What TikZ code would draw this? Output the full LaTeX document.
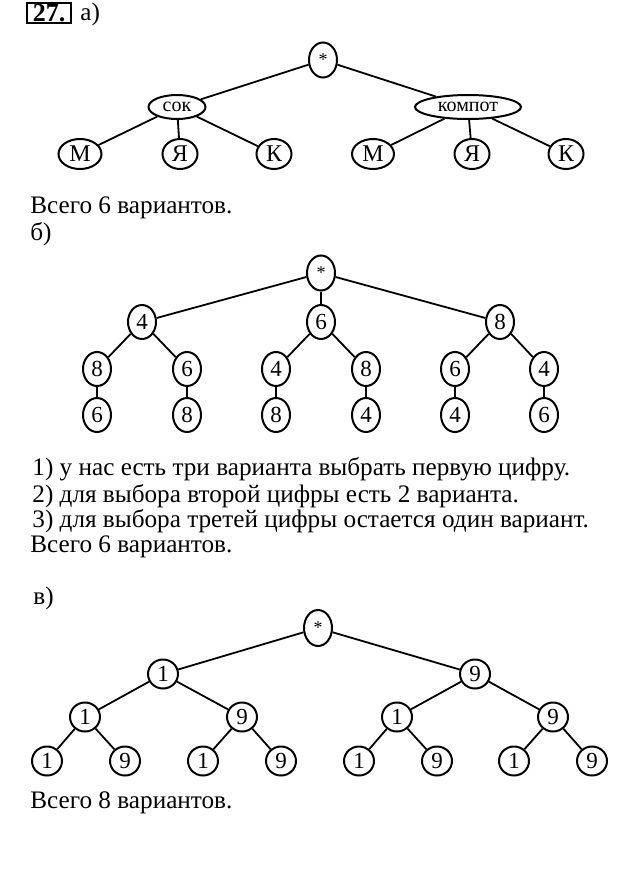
\documentclass[tikz,border=0pt]{standalone}
\usepackage{fontspec}
\setmainfont{Liberation Serif}
\usetikzlibrary{positioning, shapes.geometric}

\begin{document}
\begin{tikzpicture}[
		x=0.5pt, y=-0.5pt,
		vertex/.style={draw, ellipse, line width=1pt, inner sep=0pt, minimum width=14pt, minimum height=17pt, font=\fontsize{11.5pt}{12pt}\selectfont},
		star/.style={vertex, minimum height=17.5pt, font=\fontsize{9pt}{10pt}\selectfont},
		letter/.style={vertex, minimum width=17.5pt, minimum height=15pt, font=\fontsize{12pt}{13pt}\selectfont},
		word/.style={vertex, minimum height=12pt, font=\fontsize{10pt}{11pt}\selectfont},
		bit/.style={vertex, minimum width=15pt, minimum height=14.5pt},
		branch/.style={line width=0.9pt},
		body/.style={anchor=base west, inner sep=0pt, font=\fontsize{12.6pt}{14pt}\selectfont}
		]
		\useasboundingbox (0,0) rectangle (632,872);
		
		% ==========================================
		% PART A: DRINKS
		% ==========================================
		
		\node[draw, line width=0.7pt, inner sep=0.5pt, minimum width=22pt, minimum height=10pt, font=\bfseries\fontsize{13pt}{14pt}\selectfont] (Num) at (49,13) {27.};
		\node[body] (PartA) at (80,21) {а)};
		
		\node[star] (RootA) at (323,60) {*};
		\node[word, minimum width=28.5pt] (Sok) at (177,107) {сок};
		\node[word, minimum width=53pt] (Kompot) at (468,107) {компот};
		
		\node[letter, minimum width=21.5pt] (MSok) at (80,154) {М};
		\node[letter] (YaSok) at (180,154) {Я};
		\node[letter] (KSok) at (274,154) {К};
		\node[letter, minimum width=21pt] (MKompot) at (373,154) {М};
		\node[letter] (YaKompot) at (472,154) {Я};
		\node[letter] (KKompot) at (566,154) {К};
		
		\draw[branch] (RootA) -- (Sok);
		\draw[branch] (RootA) -- (Kompot);
		\draw[branch] (Sok) -- (MSok);
		\draw[branch] (Sok) -- (YaSok);
		\draw[branch] (Sok) -- (KSok);
		\draw[branch] (Kompot) -- (MKompot);
		\draw[branch] (Kompot) -- (YaKompot);
		\draw[branch] (Kompot) -- (KKompot);
		
		\node[body] (TotalA) at (30,213) {Всего 6 вариантов.};
		
		% ==========================================
		% PART B: DIGITS 4, 6, 8
		% ==========================================
		
		\node[body] (PartB) at (30,240) {б)};
		
		\node[star] (RootB) at (321,273) {*};
		\node[vertex] (B4) at (142,322) {4};
		\node[vertex] (B6) at (321,322) {6};
		\node[vertex] (B8) at (500,322) {8};
		
		\node[vertex] (B48) at (97,369) {8};
		\node[vertex] (B46) at (187,369) {6};
		\node[vertex] (B64) at (276,369) {4};
		\node[vertex] (B68) at (366,369) {8};
		\node[vertex] (B86) at (455,369) {6};
		\node[vertex] (B84) at (544,369) {4};
		
		\node[vertex] (B486) at (97,415) {6};
		\node[vertex] (B468) at (187,415) {8};
		\node[vertex] (B648) at (276,415) {8};
		\node[vertex] (B684) at (366,415) {4};
		\node[vertex] (B864) at (455,415) {4};
		\node[vertex] (B846) at (544,415) {6};
		
		\draw[branch] (RootB) -- (B4);
		\draw[branch] (RootB) -- (B6);
		\draw[branch] (RootB) -- (B8);
		\draw[branch] (B4) -- (B48);
		\draw[branch] (B4) -- (B46);
		\draw[branch] (B6) -- (B64);
		\draw[branch] (B6) -- (B68);
		\draw[branch] (B8) -- (B86);
		\draw[branch] (B8) -- (B84);
		\draw[branch] (B48) -- (B486);
		\draw[branch] (B46) -- (B468);
		\draw[branch] (B64) -- (B648);
		\draw[branch] (B68) -- (B684);
		\draw[branch] (B86) -- (B864);
		\draw[branch] (B84) -- (B846);
		
		\node[body] (StepOne) at (32,475) {1) у нас есть три варианта выбрать первую цифру.};
		\node[body] (StepTwo) at (32,502) {2) для выбора второй цифры есть 2 варианта.};
		\node[body] (StepThree) at (32,527) {3) для выбора третей цифры остается один вариант.};
		\node[body] (TotalB) at (30,552) {Всего 6 вариантов.};
		
		% ==========================================
		% PART C: DIGITS 1, 9
		% ==========================================
		
		\node[body] (PartV) at (33,604) {в)};
		
		\node[star, minimum height=18pt] (RootV) at (318,628) {*};
		\node[bit] (V1) at (163,674) {1};
		\node[bit] (V9) at (475,674) {9};
		
		\node[bit] (V11) at (85,717) {1};
		\node[bit] (V19) at (242,717) {9};
		\node[bit] (V91) at (397,717) {1};
		\node[bit] (V99) at (553,717) {9};
		
		\node[bit] (V111) at (47,761) {1};
		\node[bit] (V119) at (125,761) {9};
		\node[bit] (V191) at (203,761) {1};
		\node[bit] (V199) at (281,761) {9};
		\node[bit] (V911) at (359,761) {1};
		\node[bit] (V919) at (437,761) {9};
		\node[bit] (V991) at (514,761) {1};
		\node[bit] (V999) at (592,761) {9};
		
		\draw[branch] (RootV) -- (V1);
		\draw[branch] (RootV) -- (V9);
		\draw[branch] (V1) -- (V11);
		\draw[branch] (V1) -- (V19);
		\draw[branch] (V9) -- (V91);
		\draw[branch] (V9) -- (V99);
		\draw[branch] (V11) -- (V111);
		\draw[branch] (V11) -- (V119);
		\draw[branch] (V19) -- (V191);
		\draw[branch] (V19) -- (V199);
		\draw[branch] (V91) -- (V911);
		\draw[branch] (V91) -- (V919);
		\draw[branch] (V99) -- (V991);
		\draw[branch] (V99) -- (V999);
		
		\node[body] (TotalV) at (30,808) {Всего 8 вариантов.};
		
	\end{tikzpicture}
\end{document}
